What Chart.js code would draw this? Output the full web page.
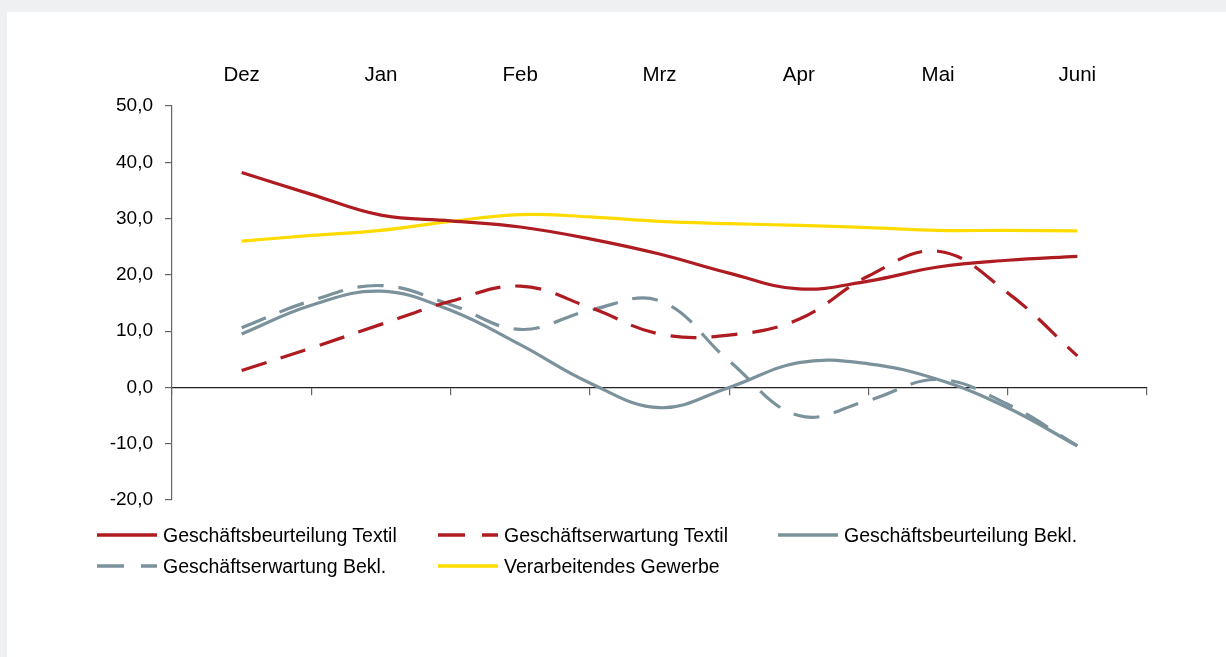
<!DOCTYPE html>
<html>
<head>
<meta charset="utf-8">
<script src="https://cdn.jsdelivr.net/npm/chart.js@4.4.1/dist/chart.umd.min.js"></script>
<style>
  html, body { margin: 0; padding: 0; background: #EFF0F2; width: 1226px; height: 657px; overflow: hidden; }
  #card { position: absolute; left: 7px; top: 12px; right: 0; bottom: 0; background: #fff; }
  #wrap { position: absolute; left: 0; top: 0; width: 1226px; height: 657px; }
  #legend { position: absolute; left: 0; top: 0; width: 1226px; height: 657px; pointer-events: none;
            font-family: "Liberation Sans", Arial, sans-serif; font-size: 19.5px; color: #000; }
  .item { position: absolute; height: 24px; display: flex; align-items: center; white-space: nowrap; }
  .item svg { margin-right: 6px; }
</style>
</head>
<body>
<div id="card"></div>
<div id="wrap"><canvas id="c" width="1226" height="657"></canvas></div>
<div id="legend"></div>
<script>
// Month labels (top axis)
const months = ['Dez', 'Jan', 'Feb', 'Mrz', 'Apr', 'Mai', 'Juni'];
// Observation positions (half-month steps, in month units from axis start)
const positions = [0.5, 1, 1.5, 2, 2.5, 3, 3.5, 4, 4.5, 5, 5.5, 6, 6.5];
// Y tick values
const yTicks = [-20, -10, 0, 10, 20, 30, 40, 50];

const seriesNames = [
  'Geschäftsbeurteilung Textil',
  'Geschäftserwartung Textil',
  'Geschäftsbeurteilung Bekl.',
  'Geschäftserwartung Bekl.',
  'Verarbeitendes Gewerbe'
];
const beurteilungTextil = [38.2, 34.3, 30.6, 29.6, 28.5, 26.4, 23.7, 20.3, 17.5, 18.9, 21.4, 22.6, 23.3];
const erwartungTextil   = [3.0, 7.0, 11.2, 15.3, 18.0, 14.2, 9.5, 9.3, 12.1, 19.8, 24.2, 16.8, 5.6];
const beurteilungBekl   = [9.5, 14.6, 17.1, 13.7, 7.6, 0.8, -3.6, 0.0, 4.4, 4.2, 1.4, -3.6, -10.4];
const erwartungBekl     = [10.6, 15.4, 18.1, 14.7, 10.3, 13.7, 15.4, 4.7, -5.0, -2.3, 1.4, -3.0, -10.4];
const verarbGewerbe     = [26.0, 27.0, 27.9, 29.5, 30.7, 30.3, 29.5, 29.1, 28.8, 28.4, 27.9, 27.9, 27.8];

const RED = '#AE1C22', GRAY = '#7B929C', YELLOW = '#FFDB00';
const DASH = [26, 15];

function pts(arr) { return arr.map((v, i) => ({ x: positions[i], y: v })); }

const FAMILY = '"Liberation Sans", Arial, sans-serif';

const datasets = [
  { label: seriesNames[0], data: pts(beurteilungTextil), borderColor: RED, borderWidth: 3.2 },
  { label: seriesNames[1], data: pts(erwartungTextil), borderColor: RED, borderWidth: 3.2, borderDash: DASH },
  { label: seriesNames[2], data: pts(beurteilungBekl), borderColor: GRAY, borderWidth: 3.2 },
  { label: seriesNames[3], data: pts(erwartungBekl), borderColor: GRAY, borderWidth: 3.2, borderDash: DASH },
  { label: seriesNames[4], data: pts(verarbGewerbe), borderColor: YELLOW, borderWidth: 3.2 }
].map(d => Object.assign({ pointRadius: 0, fill: false, tension: 0.4, xAxisID: 'x', yAxisID: 'y', borderCapStyle: 'butt' }, d));

const chart = new Chart(document.getElementById('c'), {
  type: 'line',
  data: { datasets },
  options: {
    responsive: false,
    animation: false,
    devicePixelRatio: 1,
    layout: { padding: { left: 0, top: 46, right: 79, bottom: 157 } },
    plugins: { legend: { display: false }, tooltip: { enabled: false } },
    scales: {
      xTop: {
        type: 'linear', position: 'top', min: 0, max: 7,
        grid: { display: false, drawTicks: false },
        border: { display: false },
        afterBuildTicks: s => { s.ticks = months.map((m, i) => ({ value: i + 0.5 })); },
        ticks: { font: { family: FAMILY, size: 20.5 }, color: '#000', padding: 18, autoSkip: false, maxRotation: 0,
                 callback: (v) => months[Math.round(v - 0.5)] },
        afterFit: s => { s.height = 60; }
      },
      x: {
        type: 'linear', position: { y: 0 }, min: 0, max: 7,
        grid: { display: true, drawOnChartArea: false, drawTicks: true, tickLength: 7, color: '#666', lineWidth: 1.2 },
        border: { display: true, color: '#222', width: 1.2 },
        ticks: { display: false, stepSize: 1 }
      },
      y: {
        type: 'linear', position: 'left', min: -20, max: 50,
        afterBuildTicks: s => { s.ticks = yTicks.map(v => ({ value: v })); },
        grid: { display: true, drawOnChartArea: false, drawTicks: true, tickLength: 7, color: '#666', lineWidth: 1.2 },
        border: { display: true, color: '#666', width: 1.2 },
        ticks: { font: { family: FAMILY, size: 19 }, color: '#000', padding: 12,
                 callback: v => v.toFixed(1).replace('.', ',') },
        afterFit: s => { s.width = 172; }
      }
    }
  }
});

// Legend (HTML) built from the chart's datasets
const legendPos = [[97, 523], [438, 523], [778, 523], [97, 554], [438, 554]];
const legendEl = document.getElementById('legend');
chart.data.datasets.forEach((ds, i) => {
  const div = document.createElement('div');
  div.className = 'item';
  div.style.left = legendPos[i][0] + 'px';
  div.style.top = legendPos[i][1] + 'px';
  const dash = ds.borderDash ? 'stroke-dasharray="27 17"' : '';
  div.innerHTML = '<svg width="60" height="6"><line x1="0" y1="3" x2="60" y2="3" stroke="' + ds.borderColor +
                  '" stroke-width="3.5" ' + dash + '/></svg><span></span>';
  div.querySelector('span').textContent = ds.label;
  legendEl.appendChild(div);
});
</script>
</body>
</html>
